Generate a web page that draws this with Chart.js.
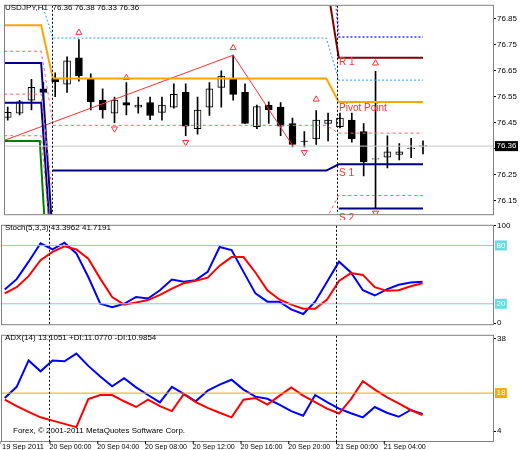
<!DOCTYPE html>
<html>
<head>
<meta charset="utf-8">
<script src="https://cdn.jsdelivr.net/npm/chart.js@4.4.0/dist/chart.umd.min.js"></script>
<style>
  body { margin: 0; background: #fff; }
  canvas { position: absolute; left: 0; }
</style>
</head>
<body>
<canvas id="main" width="525" height="220" style="top:0"></canvas>
<canvas id="stoch" width="525" height="110" style="top:220px"></canvas>
<canvas id="adx" width="525" height="120" style="top:330px"></canvas>
<script>
// hourly candles, 19 Sep 20:00 .. 21 Sep 07:00
const opens  = [76.47,76.487,76.537,76.58,76.62,76.598,76.70,76.62,76.537,76.487,76.528,76.51,76.528,76.49,76.51,76.567,76.427,76.51,76.586,76.62,76.567,76.435,76.518,76.51,76.447,76.379,76.388,76.447,76.435,76.46,76.416,76.31,76.317,76.328,76.35,76.36];
const highs  = [76.51,76.536,76.617,76.605,76.642,76.704,76.77,76.638,76.58,76.549,76.605,76.549,76.549,76.549,76.60,76.60,76.549,76.605,76.65,76.71,76.60,76.518,76.53,76.528,76.468,76.416,76.497,76.487,76.487,76.487,76.447,76.648,76.40,76.37,76.39,76.38];
const lows   = [76.46,76.48,76.499,76.537,76.55,76.567,76.61,76.499,76.468,76.45,76.48,76.487,76.462,76.46,76.506,76.40,76.406,76.478,76.51,76.537,76.447,76.427,76.447,76.40,76.357,76.357,76.367,76.38,76.43,76.375,76.245,76.12,76.276,76.307,76.316,76.33];
const closes = [76.49,76.53,76.586,76.567,76.607,76.688,76.63,76.53,76.499,76.537,76.518,76.518,76.478,76.518,76.559,76.437,76.499,76.58,76.63,76.559,76.447,76.512,76.499,76.437,76.367,76.378,76.46,76.46,76.468,76.388,76.299,76.31,76.338,76.338,76.35,76.36];

const priceTicks = [76.15,76.25,76.35,76.45,76.55,76.65,76.75,76.85];
const lastPrice = 76.36;

// pivot / band lines as [bar index, price]
const orangeLine = [[-0.3,76.825],[2.82,76.825],[3.8,76.62],[26.85,76.62],[27.9,76.53],[35,76.53]];
const navyUpper  = [[-0.3,76.68],[2.82,76.68],[3.8,76.0]];
const navyMid    = [[-0.3,76.527],[2.82,76.527],[3.6,76.0]];
const navyS1     = [[3.8,76.266],[26.85,76.266],[27.9,76.29],[35,76.29]];
const navyS2     = [[27.9,76.12],[35,76.12]];
const maroonR1   = [[26.85,77.0],[27.9,76.70],[35,76.70]];
const greenLine  = [[-0.3,76.38],[2.7,76.38],[3.2,76.0]];
const redDash1   = [[-0.3,76.725],[2.82,76.725],[3.8,76.45]];
const redDash2   = [[-0.3,76.56],[2.82,76.56],[3.7,76.2]];
const redDash3   = [[-0.3,76.40],[2.82,76.40],[3.6,76.0]];
const redDashMid = [[3.8,76.44],[26.85,76.44],[27.9,76.41],[35,76.41]];
const redDashLow = [[26.85,76.08],[27.9,76.17],[35,76.17]];
const blueDotA   = [[2.6,76.95],[3.8,76.776],[26.85,76.776],[27.9,76.614],[35,76.614]];
const blueDotB   = [[27.6,76.95],[27.9,76.78],[35,76.78]];
const zigzag     = [[-0.3,76.382],[19,76.71],[24,76.363]];
const arrowsUp   = [[6,76.797],[10,76.623],[19,76.738],[26,76.54],[31,76.679]];
const arrowsDown = [[9,76.427],[15,76.375],[25,76.336],[31,76.103]];

const stochMain   = [34.8,45.3,63.3,82.2,75.9,82.8,71.8,47.5,20,16.5,20,27,25.4,33.9,45,42.7,44.3,52.8,78.4,75.3,52.8,30.7,22.2,22.2,14.3,9.5,22.2,42.7,63.3,52.2,33.9,28.5,34.8,39.6,41.8,42.7];
const stochSignal = [30.7,37.1,48.4,64.8,73.4,79.1,75.9,66.4,45.9,27,19.1,21.3,23.8,29.2,35.5,41.2,43.7,46.9,59.2,68,68,52.2,33.9,24.4,19.1,14.9,14.9,24.4,43.4,51.6,49.7,37.1,33.3,33.9,38,41.2];
const plusDI  = [16.2,20.3,30,26,30,29.7,32.5,28,24.1,20.5,23.5,20.1,17.3,14.6,20.3,17.7,15,18.9,21.1,22.9,19.3,16.7,15.9,13.8,11.4,9.7,17.3,14.7,12.3,10.6,9.1,12.9,10.8,9.3,11.8,10.3];
const minusDI = [15.6,13.2,11.1,9.1,7.9,6.7,5.5,15.8,17.3,17.3,15,12.9,15.6,13.2,11.4,17.6,14.7,12.6,10.8,9.1,15.6,16.2,13.8,17,20.1,17.1,14.7,12.3,10.5,15.8,22.4,19.3,16.5,14.2,11.8,9.9];

const timeLabels = ['19 Sep 2011','20 Sep 00:00','20 Sep 04:00','20 Sep 08:00','20 Sep 12:00','20 Sep 16:00','20 Sep 20:00','21 Sep 00:00','21 Sep 04:00'];
const timeIndex  = [-0.2,4,8,12,16,20,24,28,32];
const sessionBreaks = [4,28];

const FONT = 'Liberation Sans';
Chart.defaults.font.family = FONT;
Chart.defaults.font.size = 8;
Chart.defaults.color = '#000';
Chart.defaults.animation = false;

const X_MIN = -0.23, X_MAX = 40.9;
const pts = arr => arr.map(([x, y]) => ({ x, y }));
const series = arr => arr.map((y, i) => ({ x: i, y }));

const line = (data, color, width, dash) => ({
  type: 'line', data: pts(data), borderColor: color, borderWidth: width || 2,
  borderDash: dash || [], pointRadius: 0, tension: 0, fill: false
});

// white background, frame, header texts, vertical session lines, badge labels
const panelPlugin = {
  id: 'panel',
  beforeDraw(chart) {
    const { ctx } = chart;
    ctx.save();
    ctx.fillStyle = '#fff';
    ctx.fillRect(0, 0, chart.width, chart.height);
    ctx.restore();
  },
  afterDatasetsDraw(chart, args, opts) {
    const { ctx, chartArea: a, scales } = chart;
    ctx.save();
    ctx.strokeStyle = '#000';
    ctx.lineWidth = 1;
    ctx.setLineDash([2, 2]);
    sessionBreaks.forEach(i => {
      const x = Math.round(scales.x.getPixelForValue(i)) - 2.5;
      ctx.beginPath(); ctx.moveTo(x, a.top); ctx.lineTo(x, a.bottom); ctx.stroke();
    });
    ctx.setLineDash([]);
    ctx.strokeStyle = '#808080';
    ctx.strokeRect(a.left - 0.5, a.top - 0.5, a.right - a.left + 1, a.bottom - a.top + 1);
    ctx.textBaseline = 'middle';
    (opts.texts || []).forEach(t => {
      ctx.fillStyle = t.color || '#000';
      ctx.font = (t.size || 8) + 'px ' + FONT;
      ctx.fillText(t.text, t.x, t.y);
    });
    (opts.badges || []).forEach(b => {
      const y = scales.y.getPixelForValue(b.value);
      ctx.font = '8px ' + FONT;
      const w = ctx.measureText(b.text).width + 3;
      ctx.fillStyle = b.bg;
      ctx.fillRect(a.right + 2, y - 5, w, 10);
      ctx.fillStyle = b.fg;
      ctx.fillText(b.text, a.right + 3.5, y);
    });
    (opts.timeLabels ? timeLabels : []).forEach((t, k) => {
      ctx.fillStyle = '#000';
      ctx.font = '8px ' + FONT;
      const x = scales.x.getPixelForValue(timeIndex[k]) - 3;
      ctx.fillText(t, Math.max(x, 2), a.bottom + 6, 42);
      ctx.beginPath(); ctx.strokeStyle = '#000';
      ctx.moveTo(x + 0.5, a.bottom); ctx.lineTo(x + 0.5, a.bottom + 3); ctx.stroke();
    });
    ctx.restore();
  }
};

function yAxis(min, max, ticks, fmt) {
  return {
    position: 'right', min, max,
    afterBuildTicks: s => { s.ticks = ticks.map(v => ({ value: v })); },
    afterFit: s => { s.width = 32; },
    ticks: { padding: 1, callback: v => fmt(v), font: { size: 8 } },
    grid: { drawOnChartArea: false, tickLength: 3, color: '#000' },
    border: { display: false }
  };
}
const xAxis = { type: 'linear', min: X_MIN, max: X_MAX, offset: false, display: false };

function build(id, datasets, y, plugOpts, padBottom) {
  return new Chart(document.getElementById(id), {
    data: { datasets },
    options: {
      responsive: false, devicePixelRatio: 1,
      layout: { padding: { left: 2, top: 2, right: 0, bottom: padBottom } },
      scales: { x: xAxis, y },
      plugins: { legend: { display: false }, tooltip: { enabled: false }, panel: plugOpts },
      datasets: { bar: { grouped: false } }
    },
    plugins: [panelPlugin]
  });
}

// main price panel
const up = opens.map((o, i) => closes[i] >= o);
build('main', [
  { type: 'line', data: [{ x: X_MIN, y: lastPrice }, { x: X_MAX, y: lastPrice }], borderColor: '#c8c8c8', borderWidth: 1, pointRadius: 0 },
  line(redDash1, '#ff6060', 1, [3, 3]),
  line(redDash2, '#ff6060', 1, [3, 3]),
  line(redDash3, '#ff6060', 1, [3, 3]),
  line(redDashMid, '#ff6060', 1, [3, 3]),
  line(redDashLow, '#ff6060', 1, [3, 3]),
  line(blueDotA, '#3399ff', 1, [2, 2]),
  line(blueDotB, '#6666ff', 2, [2, 2]),
  line(orangeLine, '#ffa500', 2),
  line(navyUpper, '#000080', 2),
  line(navyMid, '#000080', 2),
  line(navyS1, '#000080', 2),
  line(navyS2, '#000080', 2),
  line(maroonR1, '#800000', 2),
  line(greenLine, '#008000', 2),
  line(zigzag, '#ff3030', 1),
  { type: 'bar', data: opens.map((o, i) => ({ x: i, y: [lows[i], highs[i]] })), backgroundColor: '#000', barThickness: 1, borderWidth: 0 },
  { type: 'bar', data: opens.map((o, i) => ({ x: i, y: [o, o === closes[i] ? o + 0.002 : closes[i]] })),
    backgroundColor: up.map(u => u ? '#fff' : '#000'), borderColor: '#000', borderWidth: 1, borderSkipped: false, barThickness: 7 },
  { type: 'scatter', data: pts(arrowsUp), pointStyle: 'triangle', pointRadius: 3.5, borderColor: '#ff3030', backgroundColor: '#fff', borderWidth: 1 },
  { type: 'scatter', data: pts(arrowsDown), pointStyle: 'triangle', pointRotation: 180, pointRadius: 3.5, borderColor: '#ff3030', backgroundColor: '#fff', borderWidth: 1 }
], yAxis(76.098, 76.90, priceTicks, v => v.toFixed(2)), {
  texts: [
    { text: 'USDJPY,H1  76.36 76.38 76.33 76.36', x: 5, y: 8 },
    { text: 'R 1', x: 339, y: 62, color: '#ff3030', size: 10 },
    { text: 'Pivot Point', x: 339, y: 108, color: '#ff3030', size: 10 },
    { text: 'S 1', x: 339, y: 173, color: '#ff3030', size: 10 },
    { text: 'S 2', x: 339, y: 218, color: '#ff3030', size: 10 }
  ],
  badges: [{ value: lastPrice, text: '76.36', bg: '#000', fg: '#fff' }]
}, 2);

// stochastic panel
build('stoch', [
  { type: 'line', data: [{ x: X_MIN, y: 80 }, { x: X_MAX, y: 80 }], borderColor: '#66dddd', borderWidth: 1, pointRadius: 0 },
  { type: 'line', data: [{ x: X_MIN, y: 20 }, { x: X_MAX, y: 20 }], borderColor: '#66dddd', borderWidth: 1, pointRadius: 0 },
  { type: 'line', data: series(stochSignal), borderColor: '#ff0000', borderWidth: 2, pointRadius: 0 },
  { type: 'line', data: series(stochMain), borderColor: '#0000ff', borderWidth: 2, pointRadius: 0 }
], yAxis(-1, 100.2, [0, 100], v => String(v)), {
  texts: [{ text: 'Stoch(5,3,3) 43.3962 41.7191', x: 5, y: 8 }],
  badges: [
    { value: 80, text: '80', bg: '#66dddd', fg: '#fff' },
    { value: 20, text: '20', bg: '#66dddd', fg: '#fff' }
  ]
}, 2);

// ADX panel
build('adx', [
  { type: 'line', data: [{ x: X_MIN, y: 18 }, { x: X_MAX, y: 18 }], borderColor: '#ffa500', borderWidth: 1, pointRadius: 0 },
  { type: 'line', data: series(minusDI), borderColor: '#ff0000', borderWidth: 2, pointRadius: 0 },
  { type: 'line', data: series(plusDI), borderColor: '#0000ff', borderWidth: 2, pointRadius: 0 }
], yAxis(0.4, 39.06, [4, 38], v => String(v)), {
  texts: [
    { text: 'ADX(14) 13.1051 +DI:11.0770 -DI:10.9854', x: 5, y: 8 },
    { text: 'Forex, © 2001-2011 MetaQuotes Software Corp.', x: 13, y: 101 }
  ],
  badges: [{ value: 18, text: '18', bg: '#ffa500', fg: '#fff' }],
  timeLabels: true
}, 9);
</script>
</body>
</html>
